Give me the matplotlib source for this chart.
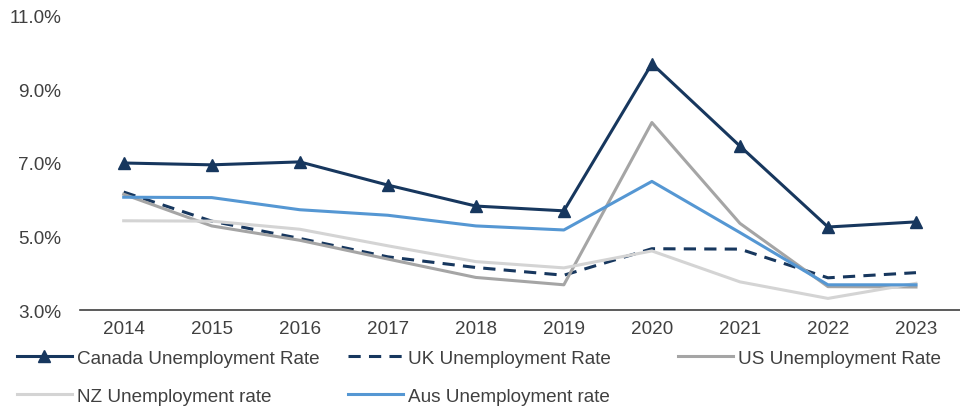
import matplotlib
matplotlib.use("Agg")
import matplotlib.pyplot as plt
from matplotlib.ticker import FuncFormatter

plt.rcParams['font.family'] = ['Liberation Sans', 'DejaVu Sans']

# data
years = ["2014", "2015", "2016", "2017", "2018", "2019", "2020", "2021", "2022", "2023"]
canada = [7.0, 6.95, 7.03, 6.4, 5.83, 5.7, 9.7, 7.46, 5.26, 5.4]
uk = [6.21, 5.42, 4.95, 4.45, 4.16, 3.95, 4.67, 4.66, 3.88, 4.02]
us = [6.15, 5.29, 4.9, 4.39, 3.89, 3.69, 8.1, 5.36, 3.64, 3.63]
nz = [5.43, 5.42, 5.2, 4.75, 4.32, 4.15, 4.61, 3.77, 3.32, 3.73]
aus = [6.07, 6.06, 5.73, 5.58, 5.29, 5.18, 6.5, 5.11, 3.69, 3.69]

navy = "#17375E"
fs = 13.6
fig = plt.figure(figsize=(9.6, 4.1), dpi=100)
ax = fig.add_axes([0.083, 0.241, 0.917, 0.718])

x = range(len(years))
l_ca, = ax.plot(x, canada, color=navy, lw=2.2, marker="^", markersize=9,
                label="Canada Unemployment Rate", zorder=5)
l_uk, = ax.plot(x, uk, color=navy, lw=2.2, ls=(0, (4, 2.7)), label="UK Unemployment Rate")
l_us, = ax.plot(x, us, color="#A5A5A5", lw=2.2, label="US Unemployment Rate")
l_nz, = ax.plot(x, nz, color="#D4D4D4", lw=2.2, label="NZ Unemployment rate")
l_au, = ax.plot(x, aus, color="#5597D3", lw=2.2, label="Aus Unemployment rate")

ax.set_xlim(-0.5, len(years) - 0.5)
ax.set_ylim(3, 11)
ax.set_yticks([3, 5, 7, 9, 11])
ax.yaxis.set_major_formatter(FuncFormatter(lambda v, p: f"{v:.1f}%"))
ax.set_xticks(list(x))
ax.set_xticklabels(years)
ax.tick_params(axis="both", length=0, labelsize=fs, colors="#404040")
ax.tick_params(axis="x", pad=7)
ax.tick_params(axis="y", pad=13)
for s in ["top", "right", "left"]:
    ax.spines[s].set_visible(False)
ax.spines["bottom"].set_color("#404040")
ax.spines["bottom"].set_linewidth(1.2)

# legend entries placed like excel (3 columns, 2 rows)
common = dict(frameon=False, fontsize=fs, handlelength=2.9, handletextpad=0.3,
              borderaxespad=0, borderpad=0, labelcolor="#404040", loc="center left")
places = [(l_ca, 0.0177, 0.1244), (l_uk, 0.3625, 0.1244), (l_us, 0.706, 0.1244),
          (l_nz, 0.0177, 0.0317), (l_au, 0.3625, 0.0317)]
for h, lx, ly in places:
    fig.legend(handles=[h], bbox_to_anchor=(lx, ly), **common)

fig.savefig("out.png", dpi=100)
